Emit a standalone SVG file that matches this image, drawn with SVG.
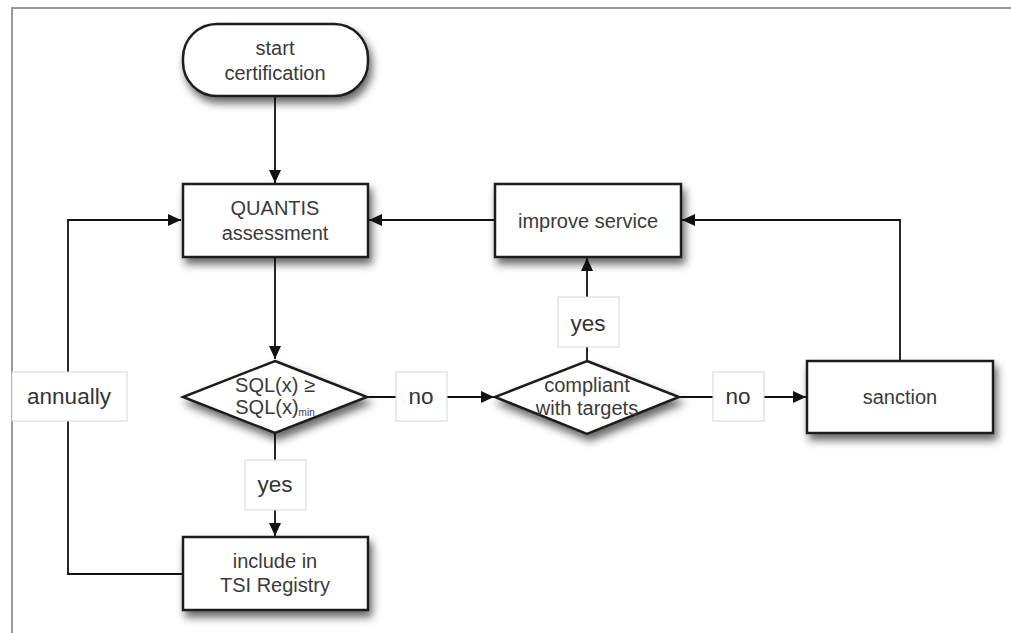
<svg xmlns="http://www.w3.org/2000/svg" width="1011" height="633" viewBox="0 0 1011 633">
  <style>
    .node { fill: #fff; stroke: #1e1e1e; stroke-width: 2.5; filter: url(#shadow); }
    .txt { font-family: "Liberation Sans", Arial, sans-serif; font-size: 20px; fill: #3a3a3a; text-anchor: middle; }
    .lbl { fill: #fff; stroke: #d6d6d6; stroke-width: 1; }
    .lbltxt { font-family: "Liberation Sans", Arial, sans-serif; font-size: 22.5px; fill: #333; text-anchor: middle; }
    .edge { fill: none; stroke: #111; stroke-width: 1.8; }
    .frame { fill: none; stroke: #999; stroke-width: 2; }
  </style>
  <defs>
    <filter id="shadow" x="-20%" y="-20%" width="150%" height="160%">
      <feDropShadow dx="3" dy="6" stdDeviation="4" flood-color="#000" flood-opacity="0.6"/>
    </filter>
    <marker id="arrow" markerUnits="userSpaceOnUse" markerWidth="14" markerHeight="14" refX="13" refY="7" orient="auto">
      <path d="M0,1 L13,7 L0,13 z" fill="#111"/>
    </marker>
  </defs>

  <rect width="1011" height="633" fill="#fff"/>
  <path class="frame" d="M12,633 V8 H1011"/>

  <!-- connectors -->
  <g id="connectors">
    <path class="edge" d="M275,97 V183" marker-end="url(#arrow)"/>
    <path class="edge" d="M275,257 V359" marker-end="url(#arrow)"/>
    <path class="edge" d="M275,433 V536" marker-end="url(#arrow)"/>
    <path class="edge" d="M182,574 H68 V220 H181" marker-end="url(#arrow)"/>
    <path class="edge" d="M367,397 H494" marker-end="url(#arrow)"/>
    <path class="edge" d="M679,397 H806" marker-end="url(#arrow)"/>
    <path class="edge" d="M587,361 V258" marker-end="url(#arrow)"/>
    <path class="edge" d="M900,361 V220 H682" marker-end="url(#arrow)"/>
    <path class="edge" d="M495,220 H369" marker-end="url(#arrow)"/>

    <g id="label-annually">
      <rect class="lbl" x="12" y="372" width="115" height="49"/>
      <text class="lbltxt" x="69" y="404">annually</text>
    </g>
    <g id="label-yes-1">
      <rect class="lbl" x="245" y="460" width="61" height="50"/>
      <text class="lbltxt" x="275" y="492">yes</text>
    </g>
    <g id="label-no-1">
      <rect class="lbl" x="396" y="372" width="51" height="49"/>
      <text class="lbltxt" x="421" y="404">no</text>
    </g>
    <g id="label-yes-2">
      <rect class="lbl" x="558" y="297" width="61" height="50"/>
      <text class="lbltxt" x="588" y="331">yes</text>
    </g>
    <g id="label-no-2">
      <rect class="lbl" x="713" y="372" width="51" height="49"/>
      <text class="lbltxt" x="738" y="404">no</text>
    </g>
  </g>

  <g id="start">
    <rect class="node" x="183" y="24" width="185" height="72" rx="34" ry="34"/>
    <text class="txt" x="275" y="55">start</text>
    <text class="txt" x="275" y="80">certification</text>
  </g>

  <g id="quantis">
    <rect class="node" x="183" y="184" width="185" height="73"/>
    <text class="txt" x="275" y="215">QUANTIS</text>
    <text class="txt" x="275" y="240">assessment</text>
  </g>

  <g id="sql-check">
    <polygon class="node" points="275,361 367,397 275,433 183,397"/>
    <text class="txt" x="275" y="392">SQL(x) ≥</text>
    <text class="txt" x="275" y="414">SQL(x)<tspan font-size="10" dy="2">min</tspan></text>
  </g>

  <g id="include">
    <rect class="node" x="183" y="537" width="185" height="73"/>
    <text class="txt" x="275" y="568">include in</text>
    <text class="txt" x="275" y="592">TSI Registry</text>
  </g>

  <g id="improve">
    <rect class="node" x="495" y="184" width="186" height="73"/>
    <text class="txt" x="588" y="228">improve service</text>
  </g>

  <g id="compliant">
    <polygon class="node" points="587,361 679,397 587,434 495,397"/>
    <text class="txt" x="587" y="392">compliant</text>
    <text class="txt" x="587" y="415">with targets</text>
  </g>

  <g id="sanction">
    <rect class="node" x="807" y="361" width="186" height="72"/>
    <text class="txt" x="900" y="404">sanction</text>
  </g>
</svg>
